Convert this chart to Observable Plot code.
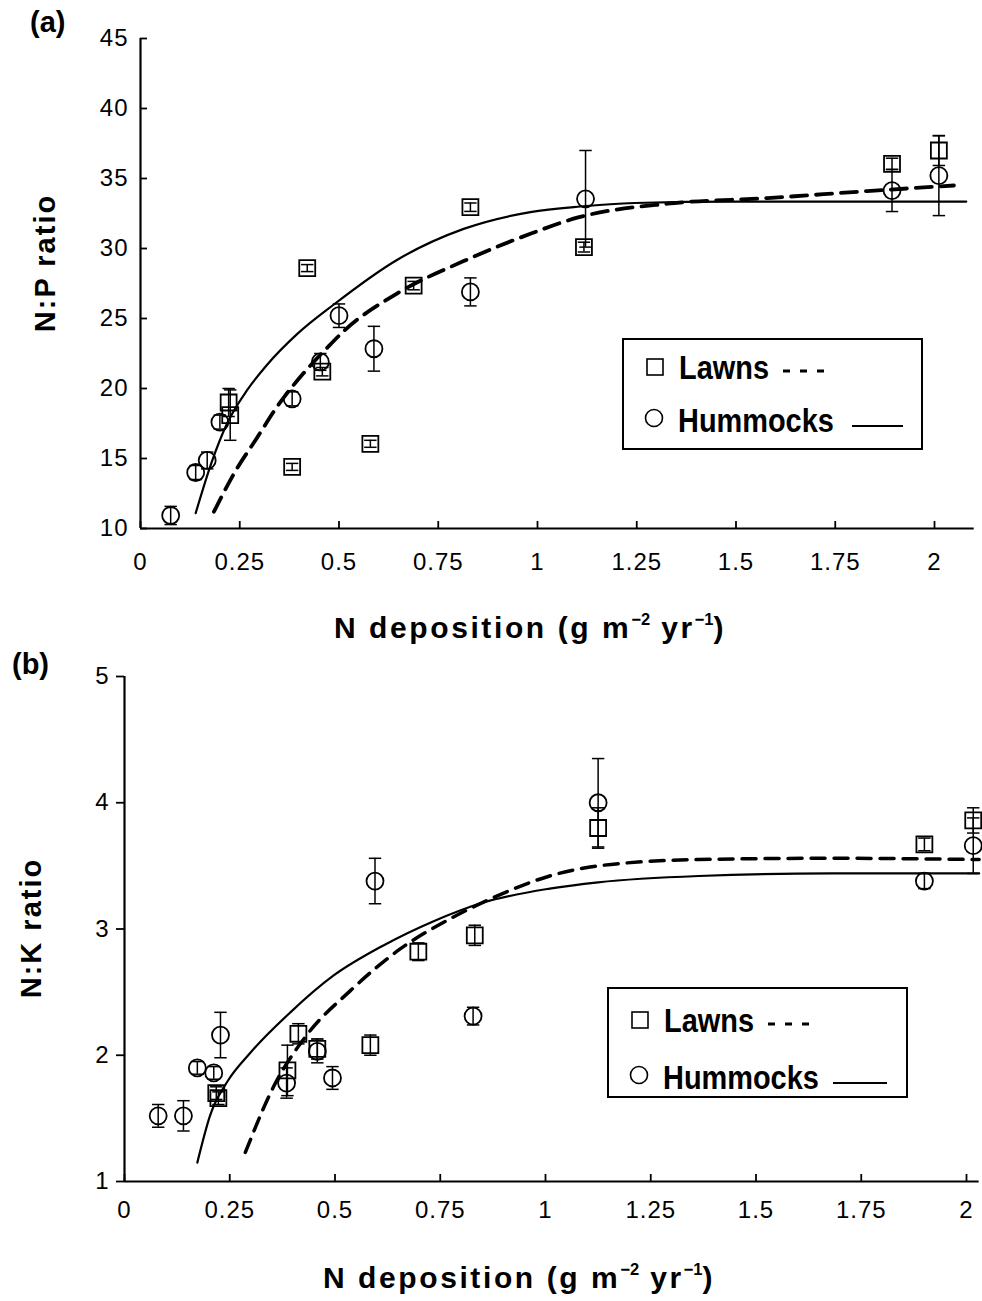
<!DOCTYPE html>
<html><head><meta charset="utf-8">
<script src="https://cdn.jsdelivr.net/npm/d3@7"></script>
<script src="https://cdn.jsdelivr.net/npm/@observablehq/plot@0.6"></script>
<style>
body{margin:0;background:#fff;}
#fig{position:relative;width:982px;height:1301px;font-family:"Liberation Sans",Arial,sans-serif;color:#000;overflow:hidden;background:#fff}
.panel{position:absolute;left:0}
.lbl{position:absolute;font-weight:bold;white-space:nowrap;line-height:1}
.lbl sup{font-size:0.55em;vertical-align:0.8em;line-height:0;letter-spacing:0}
</style></head><body><div id="fig"></div>
<script>
// ---------- shared axis ticks ----------
const xTicks = [0, 0.25, 0.5, 0.75, 1, 1.25, 1.5, 1.75, 2];
const xTickLabels = ["0", "0.25", "0.5", "0.75", "1", "1.25", "1.5", "1.75", "2"];
const aYTicks = [10, 15, 20, 25, 30, 35, 40, 45];
const aYTickLabels = ["10", "15", "20", "25", "30", "35", "40", "45"];
const bYTicks = [1, 2, 3, 4, 5];
const bYTickLabels = ["1", "2", "3", "4", "5"];
const seriesNames = ["Lawns", "Hummocks"];

// ---------- panel (a): N:P ratio ----------
const aLawnsX   = [0.222, 0.226, 0.382, 0.420, 0.458, 0.579, 0.688, 0.831, 1.117, 1.893, 2.011];
const aLawnsY   = [19.0, 18.1, 14.4, 28.6, 21.2, 16.05, 27.35, 32.95, 30.1, 36.05, 37.0];
const aLawnsErr = [1.0, 1.8, 0.25, 0.25, 0.3, 0.25, 0.3, 0.3, 0.35, 0.4, 1.07];

const aHumX   = [0.076, 0.139, 0.168, 0.200, 0.382, 0.453, 0.500, 0.588, 0.831, 1.121, 1.893, 2.011];
const aHumY   = [10.93, 14.0, 14.86, 17.6, 19.26, 21.9, 25.2, 22.84, 26.9, 33.55, 34.14, 35.2];
const aHumErr = [0.65, 0.5, 0.6, 0.5, 0.5, 0.6, 0.84, 1.6, 1.0, 3.45, 1.5, 2.85];

const aLawnsCurveX = [0.185, 0.235, 0.294, 0.344, 0.411, 0.470, 0.512, 0.647, 0.814, 0.982, 1.100, 1.327, 1.579, 1.830, 2.049];
const aLawnsCurveY = [11.2, 13.9, 16.5, 18.7, 21.1, 22.9, 24.1, 26.8, 29.1, 31.05, 32.2, 33.2, 33.6, 34.1, 34.5];
const aHumCurveX = [0.139, 0.180, 0.218, 0.269, 0.319, 0.395, 0.487, 0.647, 0.814, 0.982, 1.108, 1.244, 1.500, 1.750, 2.080];
const aHumCurveY = [11.1, 14.8, 17.5, 19.9, 21.7, 23.9, 26.0, 29.2, 31.4, 32.6, 33.0, 33.25, 33.35, 33.35, 33.35];

// ---------- panel (b): N:K ratio ----------
const bLawnsX   = [0.223, 0.218, 0.387, 0.413, 0.458, 0.584, 0.698, 0.832, 1.125, 1.900, 2.016];
const bLawnsY   = [1.66, 1.70, 1.88, 2.17, 2.05, 2.08, 2.82, 2.95, 3.80, 3.67, 3.86];
const bLawnsErr = [0.05, 0.05, 0.20, 0.08, 0.08, 0.08, 0.07, 0.08, 0.16, 0.05, 0.10];

const bHumX   = [0.080, 0.140, 0.173, 0.212, 0.228, 0.385, 0.458, 0.494, 0.595, 0.828, 1.125, 1.900, 2.016];
const bHumY   = [1.52, 1.52, 1.90, 1.86, 2.16, 1.78, 2.03, 1.82, 3.38, 2.31, 4.00, 3.38, 3.66];
const bHumErr = [0.09, 0.12, 0.05, 0.05, 0.18, 0.12, 0.09, 0.09, 0.18, 0.07, 0.35, 0.06, 0.22];

const bLawnsCurveX = [0.287, 0.354, 0.433, 0.536, 0.654, 0.773, 0.891, 1.010, 1.125, 1.364, 1.680, 2.030];
const bLawnsCurveY = [1.23, 1.75, 2.16, 2.51, 2.84, 3.08, 3.27, 3.42, 3.50, 3.55, 3.56, 3.55];
const bHumCurveX = [0.173, 0.204, 0.244, 0.299, 0.394, 0.496, 0.615, 0.733, 0.852, 1.010, 1.125, 1.364, 1.680, 2.030];
const bHumCurveY = [1.15, 1.53, 1.79, 2.02, 2.34, 2.63, 2.87, 3.06, 3.21, 3.32, 3.37, 3.42, 3.44, 3.44];

// ---------- helpers ----------
const pts = (xs, ys, es) => xs.map((x, i) => ({x, y: ys[i], e: es ? es[i] : 0}));
const cap = {draw(ctx, size) { const h = Math.sqrt(size) / 2; ctx.moveTo(-h, 0); ctx.lineTo(h, 0); }};
const fmtX = d => xTickLabels[xTicks.indexOf(d)];

function makePanel(o) {
  const lawns = pts(o.lawnsX, o.lawnsY, o.lawnsErr);
  const hum = pts(o.humX, o.humY, o.humErr);
  const lc = pts(o.lawnsCurveX, o.lawnsCurveY);
  const hc = pts(o.humCurveX, o.humCurveY);
  const errMarks = (data, capR) => [
    Plot.ruleX(data, {x: "x", y1: d => d.y - d.e, y2: d => d.y + d.e, stroke: "#000", strokeWidth: 1.5}),
    Plot.dot(data, {x: "x", y: d => d.y - d.e, symbol: cap, r: capR, stroke: "#000", fill: "none", strokeWidth: 1.5}),
    Plot.dot(data, {x: "x", y: d => d.y + d.e, symbol: cap, r: capR, stroke: "#000", fill: "none", strokeWidth: 1.5})
  ];
  return Plot.plot({
    width: 982, height: o.height,
    marginLeft: o.ml, marginRight: o.mr, marginTop: o.mt, marginBottom: o.mb,
    style: {fontFamily: '"Liberation Sans", Arial, sans-serif', fontSize: "24px", letterSpacing: "1px", color: "#000", background: "transparent", overflow: "visible"},
    x: {domain: o.xDomain},
    y: {domain: o.yDomain},
    marks: [
      Plot.axisX({ticks: xTicks, tickFormat: fmtX, tickSize: -7, tickPadding: o.xTickPad, strokeWidth: 1.8, label: null}),
      Plot.axisY({ticks: o.yTicks, tickFormat: d => o.yTickLabels[o.yTicks.indexOf(d)], tickSize: o.yTickSize, tickPadding: o.yTickPad, strokeWidth: 1.8, label: null}),
      Plot.ruleX([o.xDomain[0]], {stroke: "#000", strokeWidth: 2.2}),
      Plot.ruleY([o.yDomain[0]], {stroke: "#000", strokeWidth: 2.2}),
      Plot.line(hc, {x: "x", y: "y", curve: "monotone-x", stroke: "#000", strokeWidth: 2.2}),
      Plot.line(lc, {x: "x", y: "y", curve: "monotone-x", stroke: "#000", strokeWidth: o.dashW, strokeDasharray: o.dash}),
      ...errMarks(lawns, 7),
      ...errMarks(hum, 7),
      Plot.dot(lawns, {x: "x", y: "y", symbol: "square", r: 9, stroke: "#000", fill: "none", strokeWidth: 1.8}),
      Plot.dot(hum, {x: "x", y: "y", symbol: "circle", r: 8.5, stroke: "#000", fill: "none", strokeWidth: 1.8})
    ]
  });
}

const fig = document.getElementById("fig");

const pa = makePanel({
  height: 650, ml: 140, mr: 982 - (140 + 397 * 2.1), mt: 38, mb: 122,
  xDomain: [0, 2.1], yDomain: [10, 45], yTicks: aYTicks, yTickLabels: aYTickLabels,
  yTickSize: -7, yTickPad: 19, xTickPad: 31,
  lawnsX: aLawnsX, lawnsY: aLawnsY, lawnsErr: aLawnsErr,
  humX: aHumX, humY: aHumY, humErr: aHumErr,
  lawnsCurveX: aLawnsCurveX, lawnsCurveY: aLawnsCurveY,
  humCurveX: aHumCurveX, humCurveY: aHumCurveY,
  dash: "16,9", dashW: 3.8
});
pa.classList.add("panel"); pa.style.top = "0px";
fig.appendChild(pa);

const pb = makePanel({
  height: 651, ml: 124, mr: 982 - (124 + 421 * 2.03), mt: 26, mb: 120,
  xDomain: [0, 2.03], yDomain: [1, 5], yTicks: bYTicks, yTickLabels: bYTickLabels,
  yTickSize: 8, yTickPad: 7, xTickPad: 26,
  lawnsX: bLawnsX, lawnsY: bLawnsY, lawnsErr: bLawnsErr,
  humX: bHumX, humY: bHumY, humErr: bHumErr,
  lawnsCurveX: bLawnsCurveX, lawnsCurveY: bLawnsCurveY,
  humCurveX: bHumCurveX, humCurveY: bHumCurveY,
  dash: "14,9", dashW: 3.5
});
pb.classList.add("panel"); pb.style.top = "650px";
fig.appendChild(pb);

// ---------- text labels ----------
function label(html, css) {
  const d = document.createElement("div");
  d.className = "lbl"; d.innerHTML = html;
  Object.assign(d.style, css);
  fig.appendChild(d);
  return d;
}
label("(a)", {left: "30px", top: "8px", fontSize: "29px"});
label("(b)", {left: "12px", top: "650px", fontSize: "29px"});
label("N:P ratio", {left: "45px", top: "263px", fontSize: "29px", letterSpacing: "2px", transform: "translate(-50%,-50%) rotate(-90deg)"});
label("N:K ratio", {left: "31px", top: "928px", fontSize: "29px", letterSpacing: "2px", transform: "translate(-50%,-50%) rotate(-90deg)"});
const xlab = "N deposition (g m<sup>&minus;2</sup> yr<sup>&minus;1</sup>)";
label(xlab, {left: "530px", top: "628px", fontSize: "30px", letterSpacing: "2.6px", transform: "translate(-50%,-50%)"});
label(xlab, {left: "519px", top: "1278px", fontSize: "30px", letterSpacing: "2.6px", transform: "translate(-50%,-50%)"});

// ---------- legends ----------
function legend(left, top, w, h, rowY, lineX) {
  const svg = d3.create("svg").attr("width", w).attr("height", h)
    .style("position", "absolute").style("left", left + "px").style("top", top + "px")
    .style("font-family", '"Liberation Sans", Arial, sans-serif');
  svg.append("rect").attr("x", 1).attr("y", 1).attr("width", w - 2).attr("height", h - 2)
    .attr("fill", "none").attr("stroke", "#000").attr("stroke-width", 2);
  // Lawns row
  svg.append("rect").attr("x", 25).attr("y", rowY[0] - 8).attr("width", 16).attr("height", 16)
    .attr("fill", "none").attr("stroke", "#000").attr("stroke-width", 1.6);
  svg.append("text").attr("transform", `translate(57,${rowY[0]}) scale(0.89,1)`).attr("dy", "0.36em")
    .attr("font-size", 32.5).attr("font-weight", "bold").text(seriesNames[0]);
  svg.append("line").attr("x1", 161).attr("x2", 204).attr("y1", rowY[0] + 4).attr("y2", rowY[0] + 4)
    .attr("stroke", "#000").attr("stroke-width", 3).attr("stroke-dasharray", "7,10");
  // Hummocks row
  svg.append("circle").attr("cx", 32).attr("cy", rowY[1] - 2).attr("r", 8.5)
    .attr("fill", "none").attr("stroke", "#000").attr("stroke-width", 1.6);
  svg.append("text").attr("transform", `translate(56,${rowY[1]}) scale(0.89,1)`).attr("dy", "0.36em")
    .attr("font-size", 32.5).attr("font-weight", "bold").text(seriesNames[1]);
  svg.append("line").attr("x1", lineX[0]).attr("x2", lineX[1]).attr("y1", rowY[1] + 6).attr("y2", rowY[1] + 6)
    .attr("stroke", "#000").attr("stroke-width", 2.2);
  fig.appendChild(svg.node());
}
legend(622, 338, 301, 112, [29, 82], [230, 281]);
legend(607, 987, 301, 111, [33, 90], [226, 280]);
</script>
</body></html>
